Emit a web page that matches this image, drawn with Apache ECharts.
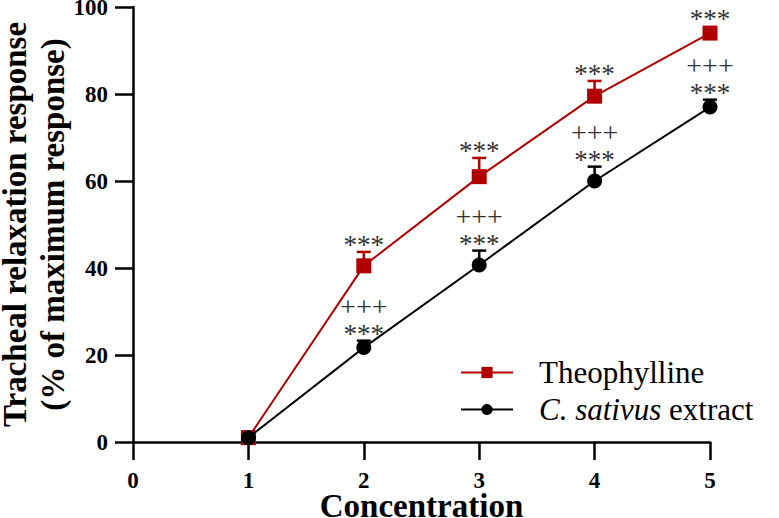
<!DOCTYPE html>
<html>
<head>
<meta charset="utf-8">
<script src="https://cdn.jsdelivr.net/npm/echarts@6/dist/echarts.min.js"></script>
<style>
  html, body { margin: 0; background: #fff; }
  #chart { width: 779px; height: 518px; }
</style>
</head>
<body>
<div id="chart"></div>
<script>
// ── data ──────────────────────────────────────────────────────────────
const concentration     = [1, 2, 3, 4, 5];
const theophylline      = [1.0, 40.5, 61.0, 79.5, 94.0];
const theophyllineErr   = [0, 3.2, 4.3, 3.5, 0.4];
const extract           = [1.0, 21.7, 40.7, 60.0, 77.0];
const extractErr        = [0, 1.6, 3.3, 3.3, 1.7];
const theophyllineStars = ['', '***', '***', '***', '***'];
const extractStars      = ['', '***', '***', '***', '***'];
const extractPlus       = ['', '+++', '+++', '+++', '+++'];

const FONT   = '"Liberation Serif", "Times New Roman", serif';
const RED    = '#b00000';
const BLACK  = '#000000';
const SIGCLR = '#333333';

// error bars (up only) + significance marks, drawn through the axes
function errorSeries(name, vals, errs, stars, plus, color) {
  return {
    type: 'custom', name, z: 1, silent: true,
    data: concentration.map((c, i) => [c, vals[i], errs[i], i]),
    renderItem(params, api) {
      const x = api.value(0), y = api.value(1), e = api.value(2), i = api.value(3);
      const p = api.coord([x, y]);
      const t = api.coord([x, y + e]);
      const kids = [];
      if (e > 0.5) {
        kids.push({ type: 'line', shape: { x1: p[0], y1: p[1], x2: t[0], y2: t[1] },
                    style: { stroke: color, lineWidth: 2.5 } });
        kids.push({ type: 'line', shape: { x1: t[0] - 7, y1: t[1], x2: t[0] + 7, y2: t[1] },
                    style: { stroke: color, lineWidth: 2.5 } });
      }
      const top = Math.min(t[1], p[1] - 7);
      if (stars[i]) kids.push({ type: 'text', x: p[0], y: top - 7,
        style: { text: stars[i], fontFamily: FONT, fontSize: 27, lineHeight: 18, fill: SIGCLR, align: 'center', verticalAlign: 'middle' } });
      if (plus && plus[i]) kids.push({ type: 'text', x: p[0], y: top - 34,
        style: { text: plus[i], fontFamily: FONT, fontSize: 28, lineHeight: 18, fill: SIGCLR, align: 'center', verticalAlign: 'middle' } });
      return { type: 'group', children: kids };
    },
  };
}

const chart = echarts.init(document.getElementById('chart'), null, { renderer: 'svg' });

const axisLine  = { show: true, lineStyle: { color: BLACK, width: 2.5 } };
const axisTick  = { show: true, length: 18, lineStyle: { color: BLACK, width: 2.5 } };
const tickLabel = { color: BLACK, fontFamily: FONT, fontSize: 23, fontWeight: 'bold', lineHeight: 20 };

chart.setOption({
  backgroundColor: '#fff', animation: false,
  grid: { left: 133, right: 69, top: 7, bottom: 76, containLabel: false, outerBoundsMode: 'none' },
  legend: {
    data: ['Theophylline', 'C. sativus extract'],
    orient: 'vertical', left: 455, top: 352,
    itemWidth: 52, itemHeight: 14, itemGap: 6,
    formatter: n => n === 'C. sativus extract' ? '{i|C. sativus} extract' : n,
    textStyle: {
      color: BLACK, fontFamily: FONT, fontSize: 31, padding: [0, 0, 0, 21],
      rich: { i: { fontStyle: 'italic', fontFamily: FONT, fontSize: 31, color: BLACK } },
    },
  },
  xAxis: {
    type: 'value', min: 0, max: 5, interval: 1,
    name: 'Concentration', nameLocation: 'middle', nameGap: 51, nameMoveOverlap: false,
    nameTextStyle: { color: BLACK, fontFamily: FONT, fontSize: 33, fontWeight: 'bold', lineHeight: 26 },
    axisLine, axisTick, splitLine: { show: false },
    axisLabel: { ...tickLabel, margin: 28 },
  },
  yAxis: {
    type: 'value', min: 0, max: 100, interval: 20,
    name: 'Tracheal relaxation response\n(% of maximum response)',
    nameLocation: 'middle', nameGap: 61, nameMoveOverlap: false,
    nameTextStyle: { color: BLACK, fontFamily: FONT, fontSize: 33, fontWeight: 'bold', lineHeight: 38 },
    axisLine, axisTick, splitLine: { show: false },
    axisLabel: { ...tickLabel, margin: 25 },
  },
  series: [
    errorSeries('theo-err', theophylline, theophyllineErr, theophyllineStars, null, RED),
    errorSeries('ext-err', extract, extractErr, extractStars, extractPlus, BLACK),
    {
      name: 'Theophylline', type: 'line', z: 3,
      data: concentration.map((c, i) => [c, theophylline[i]]),
      symbol: 'rect', symbolSize: 15,
      itemStyle: { color: RED }, lineStyle: { color: RED, width: 2 },
    },
    {
      name: 'C. sativus extract', type: 'line', z: 4,
      data: concentration.map((c, i) => [c, extract[i]]),
      symbol: 'circle', symbolSize: 15,
      itemStyle: { color: BLACK }, lineStyle: { color: BLACK, width: 2 },
    },
  ],
});
</script>
</body>
</html>
